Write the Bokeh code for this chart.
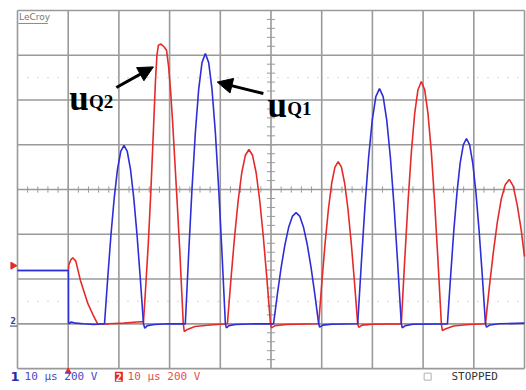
import numpy as np
from bokeh.plotting import figure
from bokeh.models import Label, Arrow, NormalHead, Range1d
from bokeh.embed import file_html
from bokeh.resources import INLINE

# ---- data (time in microseconds, voltage in V; 10 us/div, 200 V/div) ----
blue_t = [0, 10.05, 10.07, 10.6, 11.5, 13.0, 15.0,
          17.16, 17.80, 18.44, 19.08, 19.72, 20.36, 21.01, 21.65, 22.29, 22.93, 23.57, 24.21, 24.85,
          25.1, 25.6, 27.0, 30.0,
          33.10, 33.76, 34.42, 35.08, 35.73, 36.39, 37.05, 37.71, 38.37, 39.03, 39.68, 40.34, 41.00,
          41.2, 41.7, 43.0, 47.0,
          50.50, 51.24, 51.98, 52.73, 53.47, 54.21, 54.95, 55.69, 56.43, 57.18, 57.92, 58.66, 59.40,
          59.6, 60.2, 62.0,
          67.10, 67.82, 68.53, 69.25, 69.97, 70.68, 71.40, 72.12, 72.83, 73.55, 74.27, 74.98, 75.70,
          75.9, 76.5, 78.0,
          84.80, 85.43, 86.05, 86.68, 87.30, 87.93, 88.55, 89.18, 89.80, 90.43, 91.05, 91.68, 92.30,
          92.5, 93.2, 95.0, 100.0]
blue_v = [238, 238, 0, 8, 3, 0, -3,
          0, 206, 399, 563, 690, 770, 797, 770, 690, 563, 399, 206, 0,
          -20, -8, -3, 0,
          0, 313, 604, 854, 1046, 1167, 1208, 1167, 1046, 854, 604, 313, 0,
          -18, -8, -3, 0,
          0, 129, 249, 351, 430, 480, 497, 480, 430, 351, 249, 129, 0,
          -15, -6, -2,
          0, 272, 526, 743, 910, 1015, 1051, 1015, 910, 743, 526, 272, 0,
          -18, -8, -2,
          0, 214, 414, 585, 717, 800, 828, 800, 717, 585, 414, 214, 0,
          -15, -5, 0, 3]

red_t = [0, 10.05, 10.1, 10.5, 10.9, 11.5, 12.4, 13.8, 15.0, 15.8, 18.0, 21.0, 23.5,
         24.85, 25.3, 25.8, 26.3, 26.8, 27.2, 27.5, 27.8, 28.3, 28.9, 29.4, 29.8, 30.2, 30.6,
         31.0, 31.5, 32.0, 32.4, 32.7,
         32.9, 33.5, 35.0, 38.0,
         41.40, 42.11, 42.82, 43.53, 44.23, 44.94, 45.65, 46.36, 47.07, 47.78, 48.48, 49.19, 49.90,
         50.1, 50.8, 53.0,
         59.40, 60.04, 60.68, 61.33, 61.97, 62.61, 63.25, 63.89, 64.53, 65.18, 65.82, 66.46, 67.10,
         67.3, 68.0, 70.0,
         75.70, 76.36, 77.02, 77.68, 78.33, 78.99, 79.65, 80.31, 80.97, 81.63, 82.28, 82.94, 83.60,
         83.8, 84.5, 86.0, 89.0,
         92.30, 93.08, 93.87, 94.65, 95.43, 96.22, 97.00, 97.78, 98.57, 99.35, 100.0]
red_v = [238, 238, 262, 285, 295, 280, 195, 95, 35, 0, 0, 3, 8,
         10, 170, 360, 590, 860, 1080, 1200, 1245, 1250, 1238, 1222, 1150, 1040, 900,
         740, 540, 330, 140, 0,
         -35, -25, -12, -5,
         0, 202, 390, 551, 675, 753, 779, 753, 675, 551, 390, 202, 0,
         -18, -8, -3,
         0, 188, 363, 513, 628, 700, 725, 700, 628, 513, 363, 188, 0,
         -15, -6, -2,
         0, 280, 542, 766, 938, 1046, 1083, 1046, 938, 766, 542, 280, 0,
         -30, -22, -10, -3,
         0, 167, 323, 456, 559, 623, 645, 615, 530, 420, 300]

x_div = list(range(0, 101, 10))        # 10 horizontal divisions
y_div = list(range(-200, 1401, 200))   # 8 vertical divisions
dotted_levels = [100, 1100]
center_t = 50
center_v = 600

GRID = "#9a9a9a"
BLUE = "#2e2ed8"
RED = "#e52a2a"

p = figure(width=526, height=390,
           x_range=Range1d(-3.353, 100.394), y_range=Range1d(-297.9, 1444.6),
           x_axis_type=None, y_axis_type=None,
           output_backend="svg", toolbar_location=None, min_border=0)
p.grid.visible = False
p.outline_line_color = None
p.background_fill_color = "white"
p.border_fill_color = "white"

# grid
n = len(x_div)
p.segment(x0=x_div, y0=[y_div[0]] * n, x1=x_div, y1=[y_div[-1]] * n,
          line_color=GRID, line_width=1.6)
m = len(y_div)
p.segment(x0=[x_div[0]] * m, y0=y_div, x1=[x_div[-1]] * m, y1=y_div,
          line_color=GRID, line_width=1.6)

# dotted reference levels
for lv in dotted_levels:
    p.line([x_div[0], x_div[-1]], [lv, lv], line_color="#bdbdbd",
           line_width=1.2, line_dash="1 9")

# center axis tick marks
mt = np.arange(x_div[0], x_div[-1] + 0.01, 2.0)
p.segment(x0=mt, y0=[center_v - 14] * len(mt), x1=mt, y1=[center_v + 14] * len(mt),
          line_color=GRID, line_width=1)
mv = np.arange(y_div[0], y_div[-1] + 0.01, 40.0)
p.segment(x0=[center_t - 0.8] * len(mv), y0=mv, x1=[center_t + 0.8] * len(mv), y1=mv,
          line_color=GRID, line_width=1)

# traces
p.line(red_t, red_v, line_color=RED, line_width=1.6)
p.line(blue_t, blue_v, line_color=BLUE, line_width=1.6)

# annotations
p.add_layout(Arrow(end=NormalHead(size=15, fill_color="black", line_color="black"),
                   x_start=19.5, y_start=1056, x_end=26.8, y_end=1148,
                   line_width=3, line_color="black"))
p.add_layout(Arrow(end=NormalHead(size=15, fill_color="black", line_color="black"),
                   x_start=48.5, y_start=1029, x_end=39.4, y_end=1080,
                   line_width=3, line_color="black"))

def serif(x, y, t, size):
    p.add_layout(Label(x=x, y=y, text=t, text_font="Liberation Serif",
                       text_font_style="bold", text_font_size=size,
                       text_color="black", text_baseline="alphabetic"))

serif(10.2, 1007, "u", "35px")
serif(14.1, 993, "Q2", "19px")
serif(49.3, 975, "u", "35px")
serif(53.2, 961, "Q1", "19px")

# LeCroy logo
p.add_layout(Label(x=0.3, y=1393, text="LeCroy", text_font="DejaVu Sans",
                   text_font_size="9px", text_color="#777777", text_baseline="top"))
p.line([0.2, 6.0], [1342, 1342], line_color="#888888", line_width=1)

# side markers
p.scatter([-0.9], [260], marker="triangle", size=7, angle=-np.pi / 2,
          fill_color=RED, line_color=RED)
p.scatter([10.0], [-213], marker="triangle", size=6,
          fill_color=RED, line_color=RED)
p.add_layout(Label(x=-1.4, y=15, text="2", text_font="DejaVu Sans Mono",
                   text_font_style="bold", text_font_size="9px",
                   text_color="#3a3a7a", text_baseline="middle"))
p.line([-1.5, -0.1], [-10, -10], line_color="#3a3a7a", line_width=1)

# status line
SV = -236
p.add_layout(Label(x=-1.4, y=SV, text="1", text_font="DejaVu Sans",
                   text_font_style="bold", text_font_size="13px",
                   text_color="#2a2aa8", text_baseline="middle"))
p.add_layout(Label(x=1.4, y=SV, text="10 µs 200 V", text_font="DejaVu Sans Mono",
                   text_font_size="11px", text_color="#4a4ac8", text_baseline="middle"))
p.add_layout(Label(x=19.2, y=SV, text="2", text_font="DejaVu Sans Mono",
                   text_font_style="bold", text_font_size="10px", text_color="white",
                   background_fill_color=RED, padding=1, text_baseline="middle"))
p.add_layout(Label(x=21.7, y=SV, text="10 µs 200 V", text_font="DejaVu Sans Mono",
                   text_font_size="11px", text_color="#e55050", text_baseline="middle"))
p.scatter([80.9], [SV], marker="square", size=7, fill_color=None,
          line_color="#b0b0b0", line_width=1)
p.add_layout(Label(x=85.6, y=SV, text="STOPPED", text_font="DejaVu Sans Mono",
                   text_font_size="11px", text_color="#333333", text_baseline="middle"))

open("out.html", "w").write(file_html(p, INLINE))
